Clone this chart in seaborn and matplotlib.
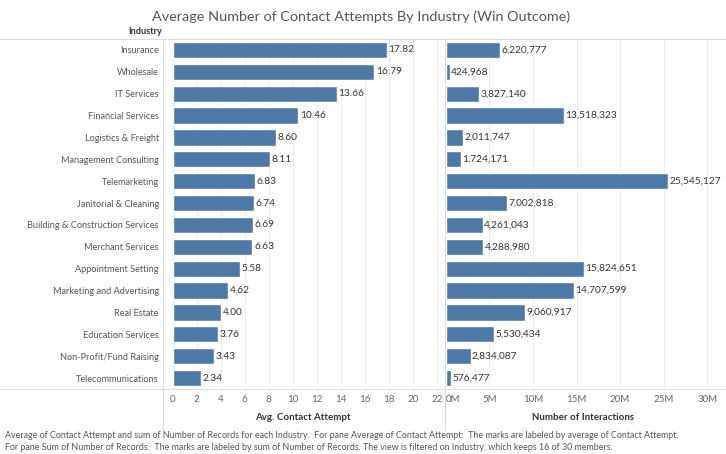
import matplotlib
matplotlib.use("Agg")
import matplotlib.pyplot as plt
from matplotlib.lines import Line2D
from matplotlib.ticker import FuncFormatter
import seaborn as sns
import pandas as pd

## Data
industries = ["Insurance", "Wholesale", "IT Services", "Financial Services",
              "Logistics & Freight", "Management Consulting", "Telemarketing",
              "Janitorial & Cleaning", "Building & Construction Services",
              "Merchant Services", "Appointment Setting", "Marketing and Advertising",
              "Real Estate", "Education Services", "Non-Profit/Fund Raising",
              "Telecommunications"]
avg_attempts = [17.82, 16.79, 13.66, 10.46, 8.60, 8.11, 6.83, 6.74, 6.69, 6.63,
                5.58, 4.62, 4.00, 3.76, 3.43, 2.34]
interactions = [6220777, 424968, 3827140, 13518323, 2011747, 1724171, 25545127,
                7002818, 4261043, 4288980, 15824651, 14707599, 9060917, 5530434,
                2834087, 576477]
left_ticks = list(range(0, 23, 2))
right_ticks = [0, 5e6, 10e6, 15e6, 20e6, 25e6, 30e6]

df = pd.DataFrame({"Industry": industries, "Avg": avg_attempts, "Records": interactions})

sns.set_theme(style="white")
plt.rcParams['font.family'] = ['Lato', 'DejaVu Sans']

bar_col = "#4e79a7"
txt_col = "#333333"
grid_col = "#ececec"
fs = 6.6

fig = plt.figure(figsize=(7.26, 4.54), dpi=100)
W, H = 726, 454
def box(x0, x1, y0, y1):
    return [x0 / W, 1 - y1 / H, (x1 - x0) / W, (y1 - y0) / H]

ax1 = fig.add_axes(box(163, 443, 39, 389))
ax2 = fig.add_axes(box(445, 722, 39, 389))

sns.barplot(ax=ax1, data=df, x="Avg", y="Industry", color=bar_col, orient="h",
            width=0.74, saturation=1, zorder=3)
sns.barplot(ax=ax2, data=df, x="Records", y="Industry", color=bar_col, orient="h",
            width=0.74, saturation=1, zorder=3)

ax1.set_xlim(-0.8, 22.5)
ax2.set_xlim(-0.1e6, 31.7e6)
for ax in (ax1, ax2):
    ax.set_ylim(15.5, -0.5)
    for s in ax.spines.values():
        s.set_visible(False)
    ax.set_ylabel("")
    ax.tick_params(axis="both", length=0, labelsize=7, colors="#666666", pad=4)

ax1.set_xticks(left_ticks)
ax2.set_xticks(right_ticks)
ax2.xaxis.set_major_formatter(FuncFormatter(lambda v, p: f"{v/1e6:.0f}M"))
ax2.set_yticks([])
ax1.set_yticklabels(industries, fontsize=fs, color="#555555")
ax1.tick_params(axis="y", pad=3)
ax2.get_xticklabels()[0].set_horizontalalignment("left")

for t in left_ticks:
    ax1.axvline(t, color=grid_col, lw=0.7, zorder=0)
for t in right_ticks[1:]:
    ax2.axvline(t, color=grid_col, lw=0.7, zorder=0)

ax1.set_xlabel("Avg. Contact Attempt", fontsize=7, fontweight="bold", color=txt_col, labelpad=7)
ax2.set_xlabel("Number of Interactions", fontsize=7, fontweight="bold", color=txt_col, labelpad=7)

for i, v in enumerate(avg_attempts):
    ax1.text(v + 0.15, i, f"{v:.2f}", va="center", ha="left", fontsize=7.3, color=txt_col)
for i, v in enumerate(interactions):
    ax2.text(v + 0.15e6, i, f"{v:,}", va="center", ha="left", fontsize=7.3, color=txt_col)

# pane borders
line_c = "#dcdcdc"
fig.add_artist(Line2D([0, 1], [1 - 39 / H, 1 - 39 / H], color=line_c, lw=0.8))
fig.add_artist(Line2D([0, 1], [1 - 389 / H, 1 - 389 / H], color=line_c, lw=0.8))
fig.add_artist(Line2D([163 / W, 163 / W], [1 - 39 / H, 1 - 430 / H], color=line_c, lw=0.8))
fig.add_artist(Line2D([445 / W, 445 / W], [1 - 39 / H, 1 - 430 / H], color=line_c, lw=0.8))

fig.text(361 / W, 1 - 17 / H, "Average Number of Contact Attempts By Industry (Win Outcome)",
         ha="center", va="center", fontsize=10.4, color="#555555")
fig.text(162 / W, 1 - 32 / H, "Industry", ha="right", va="center", fontsize=fs,
         fontweight="bold", color=txt_col)

fig.text(5 / W, 1 - 435 / H,
         "Average of Contact Attempt and sum of Number of Records for each Industry.  For pane Average of "
         "Contact Attempt:  The marks are labeled by average of Contact Attempt.",
         ha="left", va="center", fontsize=6.4, color="#555555")
fig.text(5 / W, 1 - 448 / H,
         "For pane Sum of Number of Records:  The marks are labeled by sum of Number of Records. "
         "The view is filtered on Industry, which keeps 16 of 30 members.",
         ha="left", va="center", fontsize=6.4, color="#555555")

plt.savefig("out.png", dpi=100)
plt.close()
